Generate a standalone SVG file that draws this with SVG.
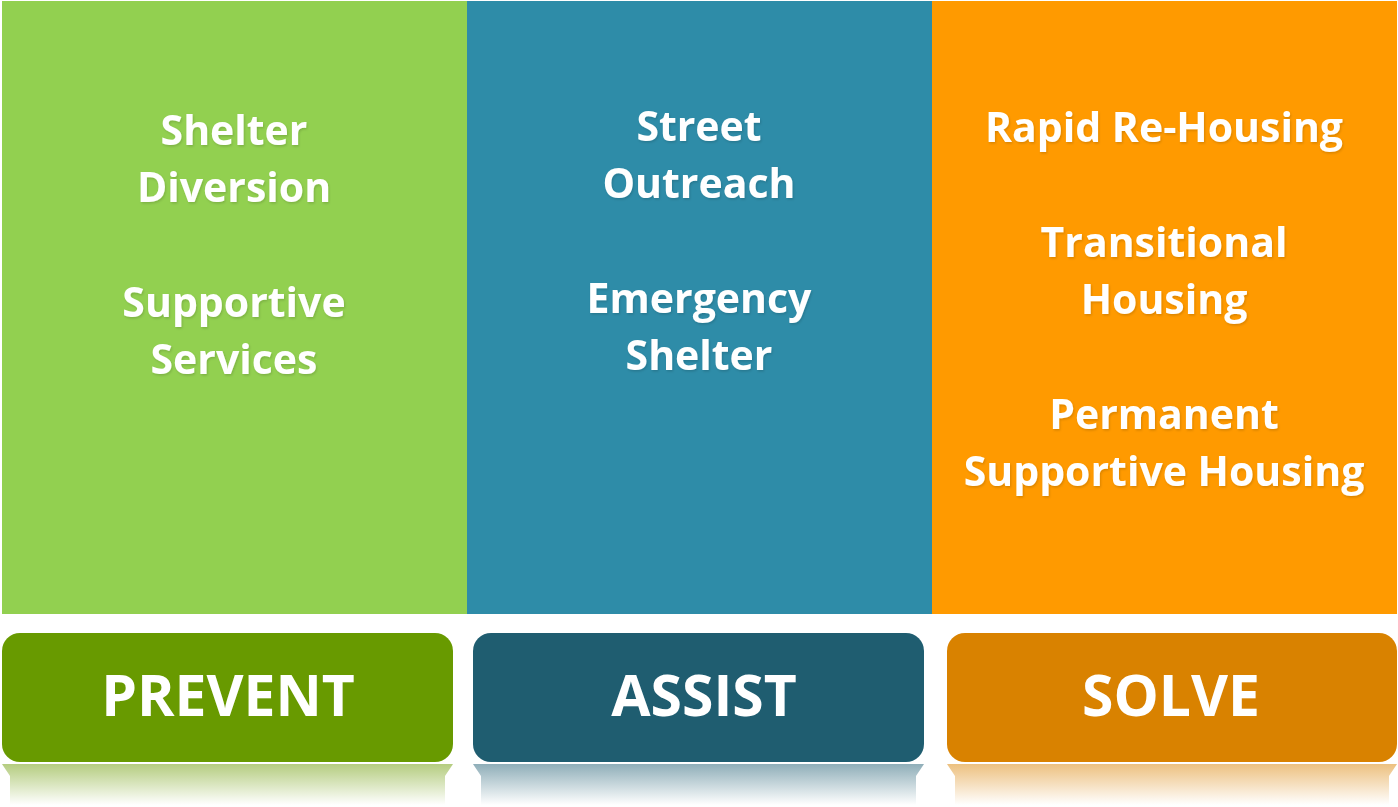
<svg xmlns="http://www.w3.org/2000/svg" width="1398" height="807" viewBox="0 0 1398 807">
<defs>
<style>
.t{font-family:"Open Sans","Noto Sans","Liberation Sans",sans-serif;font-weight:bold;fill:#ffffff;text-anchor:middle;font-size:41px;filter:url(#sh)}
.b{font-family:"Open Sans","Noto Sans","Liberation Sans",sans-serif;font-weight:bold;fill:#ffffff;text-anchor:middle;font-size:57px}
</style>
<filter id="sh" x="-10%" y="-10%" width="120%" height="130%">
<feDropShadow dx="1" dy="1.5" stdDeviation="1" flood-color="#000" flood-opacity="0.15"/>
</filter>
<linearGradient id="fg" x1="0" y1="0" x2="0" y2="1">
<stop offset="0" stop-color="#6a9a00" stop-opacity="0.5"/>
<stop offset="1" stop-color="#6a9a00" stop-opacity="0"/>
</linearGradient>
<linearGradient id="fb" x1="0" y1="0" x2="0" y2="1">
<stop offset="0" stop-color="#1f5d72" stop-opacity="0.5"/>
<stop offset="1" stop-color="#1f5d72" stop-opacity="0"/>
</linearGradient>
<linearGradient id="fo" x1="0" y1="0" x2="0" y2="1">
<stop offset="0" stop-color="#da8200" stop-opacity="0.5"/>
<stop offset="1" stop-color="#da8200" stop-opacity="0"/>
</linearGradient>
</defs>
<rect width="1398" height="807" fill="#ffffff"/>
<g id="prevent-panel">
<rect x="2" y="1" width="465" height="613" fill="#92d050"/>
<text class="t" x="234" y="145">Shelter</text>
<text class="t" x="234" y="202">Diversion</text>
<text class="t" x="234" y="317">Supportive</text>
<text class="t" x="234" y="374">Services</text>
</g>
<g id="assist-panel">
<rect x="467" y="1" width="465" height="613" fill="#2e8ca8"/>
<text class="t" x="699" y="141">Street</text>
<text class="t" x="699" y="198">Outreach</text>
<text class="t" x="699" y="313">Emergency</text>
<text class="t" x="699" y="370">Shelter</text>
</g>
<g id="solve-panel">
<rect x="932" y="1" width="465" height="613" fill="#ff9a00"/>
<text class="t" x="1164" y="142">Rapid Re-Housing</text>
<text class="t" x="1164" y="257">Transitional</text>
<text class="t" x="1164" y="314">Housing</text>
<text class="t" x="1164" y="429">Permanent</text>
<text class="t" x="1164" y="486">Supportive Housing</text>
</g>
<g id="prevent">
<path d="M2,764 H453 Q453,764 445,776 V805 H10 V776 Q2,764 2,764 Z" fill="url(#fg)"/>
<rect x="2" y="633" width="451" height="129" rx="18" fill="#689a00"/>
<text class="b" x="228" y="716">PREVENT</text>
</g>
<g id="assist">
<path d="M473,764 H924 Q924,764 916,776 V805 H481 V776 Q473,764 473,764 Z" fill="url(#fb)"/>
<rect x="473" y="633" width="451" height="129" rx="18" fill="#1f5d70"/>
<text class="b" x="704" y="716">ASSIST</text>
</g>
<g id="solve">
<path d="M947,764 H1397 Q1397,764 1389,776 V805 H955 V776 Q947,764 947,764 Z" fill="url(#fo)"/>
<rect x="947" y="633" width="450" height="129" rx="18" fill="#d98200"/>
<text class="b" x="1171" y="716">SOLVE</text>
</g>
<g id="connectors"/>
</svg>
